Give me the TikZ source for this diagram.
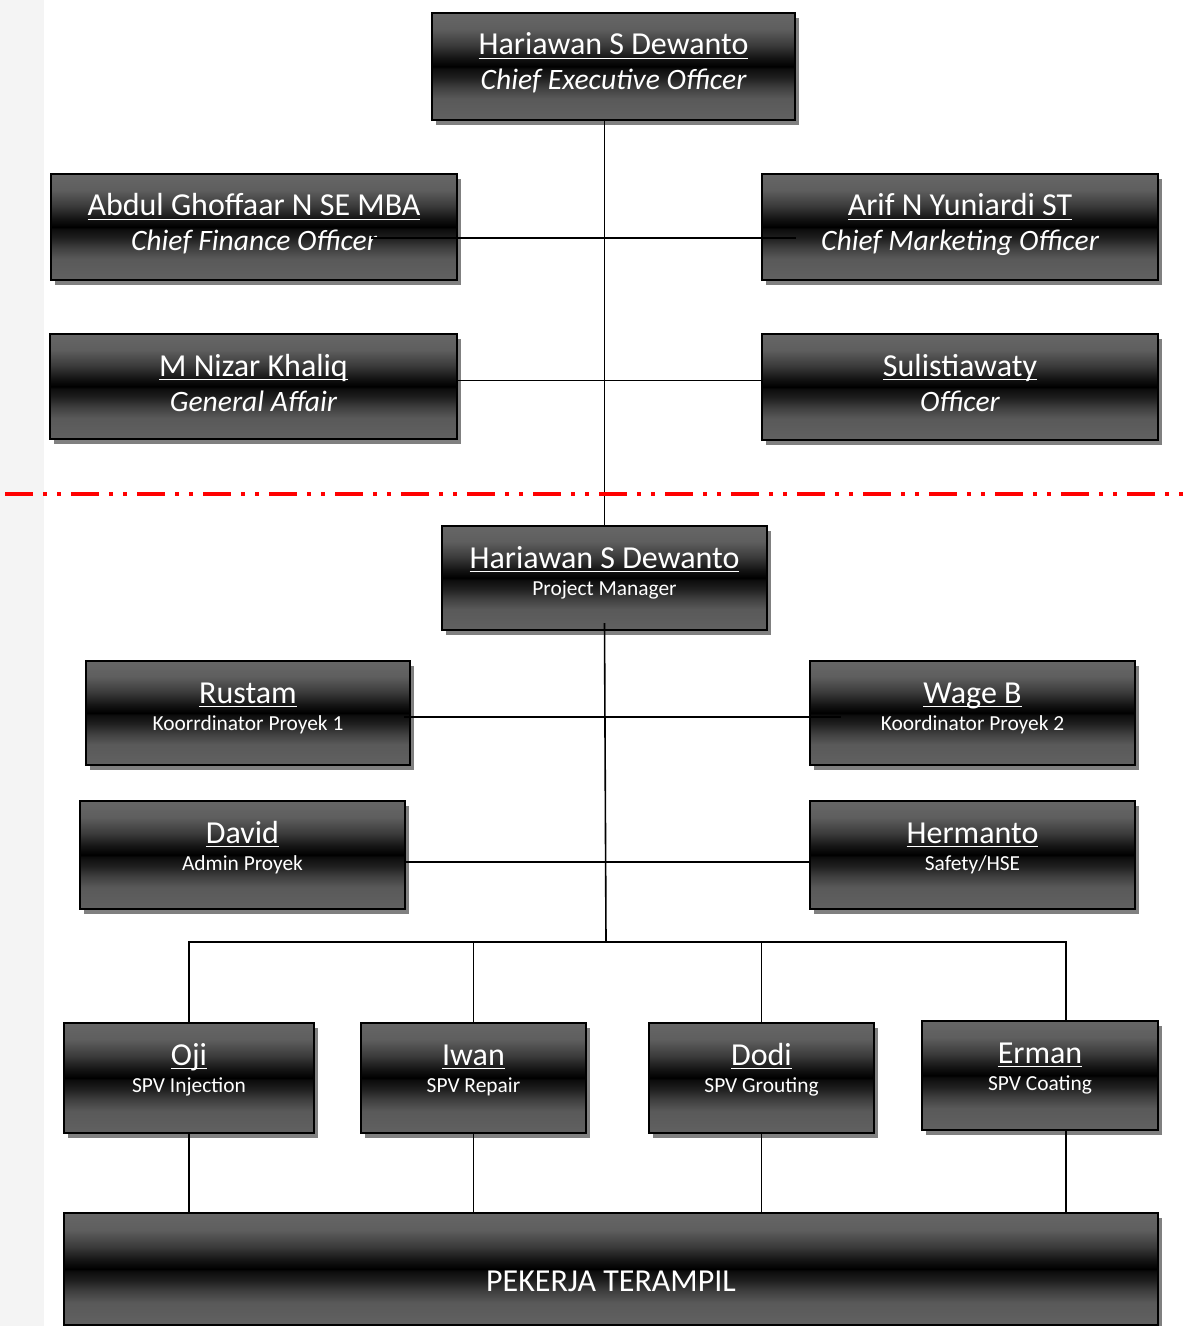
\documentclass[tikz,border=0pt]{standalone}
\usepackage{fontspec}
\setmainfont{Carlito}
\usepackage{xcolor}
\definecolor{ShadowGrey}{HTML}{808080}
\definecolor{StripGrey}{HTML}{F4F4F4}
\definecolor{CutRed}{HTML}{FF0000}
\usepackage{tikz}
\usetikzlibrary{shadows}
\pgfdeclareverticalshading{postshade}{100bp}{color(0bp)=(black!62); color(25bp)=(black!62);
  color(35bp)=(black!65); color(40bp)=(black!75); color(45bp)=(black!88); color(49bp)=(black!95);
  color(50bp)=(black); color(54bp)=(black!92); color(60bp)=(black!77); color(67.5bp)=(black!63);
  color(75bp)=(black!60); color(100bp)=(black!60)}
\newcommand\Uline[1]{\sbox0{#1}\rlap{\usebox0}\rule[-2.2pt]{\wd0}{0.75pt}}
\tikzstyle{post}=[rectangle,draw=black,line width=1pt,shade,shading=postshade,
                     drop shadow={shadow xshift=2pt,shadow yshift=-2.5pt,fill=ShadowGrey,opacity=1}]
\tikzstyle{person}=[text=white,inner sep=0pt,anchor=base,font=\fontsize{16}{19}\selectfont]
\tikzstyle{bigjob}=[text=white,inner sep=0pt,anchor=base,yshift=-17.5pt,
                     font=\fontsize{14.8}{18}\selectfont\itshape]
\tikzstyle{smalljob}=[text=white,inner sep=0pt,anchor=base,yshift=-13.5pt,
                     font=\fontsize{10.7}{13}\selectfont]
\tikzstyle{link}=[line width=0.8pt,draw=black]
\tikzstyle{divider}=[line width=2pt,draw=CutRed,
                     dash pattern=on 14pt off 5pt on 2pt off 5pt on 2pt off 5pt]
% #1 name, #2 left, #3 top, #4 right, #5 bottom, #6 person, #7 job, #8 job style
\newcommand\Post[8]{%
  \node[post,minimum width={(#4-#2)*0.5pt},minimum height={(#5-#3)*0.5pt}] (#1) at ({(#2+#4)/2},{(#3+#5)/2}) {};
  \node[person] (#1-name) at ({(#2+#4)/2},{#3+42}) {\Uline{#6}};
  \node[#8] (#1-job) at (#1-name.base) {#7};
}

\begin{document}
\begin{tikzpicture}[x=0.5pt,y=-0.5pt]
      \useasboundingbox (0,0) rectangle (1188,1326);
      \fill[StripGrey] (0,0) rectangle (44,1326);
      \Post{ceo}{432}{13}{795}{120}{Hariawan S Dewanto}{Chief Executive Officer}{bigjob}
      \Post{cfo}{51}{174}{457}{280}{Abdul Ghoffaar N SE MBA}{Chief Finance Officer}{bigjob}
      \Post{cmo}{762}{174}{1158}{280}{Arif N Yuniardi ST}{Chief Marketing Officer}{bigjob}
      \Post{ga}{50}{334}{457}{439}{M Nizar Khaliq}{General Affair}{bigjob}
      \Post{off}{762}{334}{1158}{440}{Sulistiawaty}{Officer}{bigjob}
      \Post{pm}{442}{526}{767}{630}{Hariawan S Dewanto}{Project Manager}{smalljob}
      \Post{kp1}{86}{661}{410}{765}{Rustam}{Koorrdinator Proyek 1}{smalljob}
      \Post{kp2}{810}{661}{1135}{765}{Wage B}{Koordinator Proyek 2}{smalljob}
      \Post{adm}{80}{801}{405}{909}{David}{Admin Proyek}{smalljob}
      \Post{hse}{810}{801}{1135}{909}{Hermanto}{Safety/HSE}{smalljob}
      \Post{oji}{64}{1023}{314}{1133}{Oji}{SPV Injection}{smalljob}
      \Post{iwan}{361}{1023}{586}{1133}{Iwan}{SPV Repair}{smalljob}
      \Post{dodi}{649}{1023}{874}{1133}{Dodi}{SPV Grouting}{smalljob}
      \Post{erman}{922}{1021}{1158}{1130}{Erman}{SPV Coating}{smalljob}
      \node[post,minimum width=547pt,minimum height=56pt] (crew) at (611,1269) {};
      \node[person] (crew-name) at (611,1291) {PEKERJA TERAMPIL};
      \coordinate (bus) at (606,942);
      \draw[link] (pm.north) -- (pm.north |- ceo.south);
      \draw[link] ([xshift=-43.5pt,yshift=-5.5pt]cfo.east) -- ([xshift=17.5pt,yshift=-5.5pt]cmo.west);
      \draw[link] ([yshift=3pt]ga.east) -- ([yshift=3pt]ga.east -| off.west);
      \draw[link] ([yshift=4pt]pm.south) -- (bus);
      \draw[link] ([xshift=-3.5pt,yshift=-2pt]kp1.east) -- ([xshift=16pt,yshift=-2pt]kp2.west);
      \draw[link] ([yshift=-3.5pt]adm.east) -- ([yshift=-3.5pt]adm.east -| hse.west);
      \draw[link] (oji.north) |- (bus) -| ([xshift=13pt]erman.north);
      \draw[link] (iwan.north) -- (iwan.north |- bus);
      \draw[link] (dodi.north) -- (dodi.north |- bus);
      \draw[link] (oji.south) -- (oji.south |- crew.north);
      \draw[link] (iwan.south) -- (iwan.south |- crew.north);
      \draw[link] (dodi.south) -- (dodi.south |- crew.north);
      \draw[link] ([xshift=13pt]erman.south) -- ([xshift=13pt]erman.south |- crew.north);
      \draw[divider] (5,494) -- (1188,494);
   \end{tikzpicture}
\end{document}
